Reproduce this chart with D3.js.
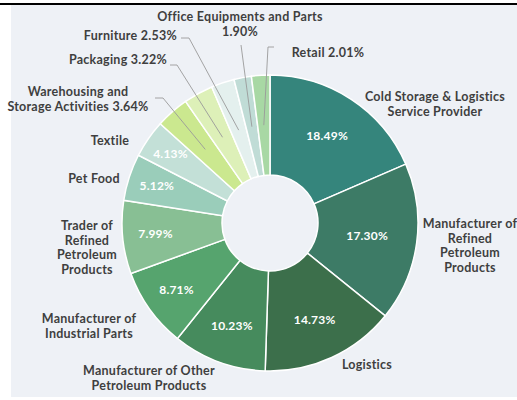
<!DOCTYPE html>
<html>
<head>
<meta charset="utf-8">
<script src="https://cdn.jsdelivr.net/npm/d3@7"></script>
<style>
  html, body { margin: 0; padding: 0; background: #ffffff; }
  svg { display: block; }
</style>
</head>
<body>
<script>
// ---- data ----
const categories = [
  "Cold Storage & Logistics Service Provider",
  "Manufacturer of Refined Petroleum Products",
  "Logistics",
  "Manufacturer of Other Petroleum Products",
  "Manufacturer of Industrial Parts",
  "Trader of Refined Petroleum Products",
  "Pet Food",
  "Textile",
  "Warehousing and Storage Activities",
  "Packaging",
  "Furniture",
  "Office Equipments and Parts",
  "Retail"
];
const shares = [18.49, 17.30, 14.73, 10.23, 8.71, 7.99, 5.12, 4.13, 3.64, 3.22, 2.53, 1.90, 2.01];
const sliceColors = ["#35857c", "#3d7b66", "#3c6f4b", "#468b5d", "#56a46e", "#88bf94", "#9acdba",
                     "#c3e0d7", "#cbe88f", "#ddf0b8", "#e4f0ee", "#c0dcd6", "#a8d8a4"];

// ---- layout (label placement) ----
const W = 517, H = 400;
const cx = 270, cy = 223, rOuter = 148, rInner = 48;
const labelLayout = [
  { lines: ["Cold Storage & Logistics", "Service Provider"], x: 435, y: 101, anchor: "middle", inside: 104 },
  { lines: ["Manufacturer of", "Refined", "Petroleum", "Products"], x: 470, y: 228, anchor: "middle", inside: 98 },
  { lines: ["Logistics"], x: 367, y: 369, anchor: "middle", inside: 107 },
  { lines: ["Manufacturer of Other", "Petroleum Products"], x: 149, y: 375, anchor: "middle", inside: 110 },
  { lines: ["Manufacturer of", "Industrial Parts"], x: 89, y: 323, anchor: "middle", inside: 115 },
  { lines: ["Trader of", "Refined", "Petroleum", "Products"], x: 87, y: 230, anchor: "middle", inside: 115 },
  { lines: ["Pet Food"], x: 94, y: 183, anchor: "middle", inside: 119 },
  { lines: ["Textile"], x: 110, y: 145, anchor: "middle", inside: 121 },
  { lines: ["Warehousing and", "Storage Activities {p}"], x: 78, y: 96, anchor: "middle",
    leader: [[155, 98], [163, 98]] },
  { lines: ["Packaging {p}"], x: 167, y: 64, anchor: "end", leader: [[170, 65], [177, 65]] },
  { lines: ["Furniture {p}"], x: 177, y: 40, anchor: "end", leader: [[181, 38], [189, 38]] },
  { lines: ["Office Equipments and Parts", "{p}"], x: 240, y: 21, anchor: "middle", leader: [[241, 45]] },
  { lines: ["Retail {p}"], x: 328, y: 57, anchor: "middle", leader: [[274, 47], [268, 47]] }
];
const lineH = 14.7;

const fmt = v => d3.format(".2f")(v) + "%";

const svg = d3.select("body").append("svg").attr("width", W).attr("height", H);

// background panel
svg.append("rect").attr("x", 11).attr("y", 4).attr("width", W - 11).attr("height", 393).attr("fill", "#eef1f6");

// rule line under (cropped) title
svg.append("line").attr("x1", 0).attr("x2", W).attr("y1", 4).attr("y2", 4)
  .attr("stroke", "#000").attr("stroke-width", 2);

const pie = d3.pie().sort(null).value(d => d)(shares);
const arc = d3.arc().innerRadius(rInner).outerRadius(rOuter);

const g = svg.append("g").attr("transform", `translate(${cx},${cy})`);
g.selectAll("path.slice").data(pie).join("path")
  .attr("class", "slice")
  .attr("d", arc)
  .attr("fill", (d, i) => sliceColors[i])
  .attr("stroke", "#ffffff").attr("stroke-width", 1.5);

// leader lines
pie.forEach((d, i) => {
  const L = labelLayout[i];
  if (!L.leader) return;
  const c = arc.centroid(d);
  const pts = L.leader.map(p => [p[0], p[1]]).concat([[cx + c[0], cy + c[1]]]);
  svg.append("path").attr("d", d3.line()(pts))
    .attr("fill", "none").attr("stroke", "#9a9a9a").attr("stroke-width", 0.9);
});

// inside percentage labels
pie.forEach((d, i) => {
  const L = labelLayout[i];
  if (!L.inside) return;
  const a = (d.startAngle + d.endAngle) / 2;
  const x = cx + L.inside * Math.sin(a), y = cy - L.inside * Math.cos(a);
  svg.append("text").attr("x", x).attr("y", y).attr("dy", "0.35em")
    .attr("text-anchor", "middle")
    .attr("font-family", "Lato, sans-serif").attr("font-weight", 700).attr("font-size", 12)
    .attr("letter-spacing", 0.2)
    .attr("fill", "#ffffff").text(fmt(shares[i]));
});

// category labels
labelLayout.forEach((L, i) => {
  const t = svg.append("text").attr("text-anchor", L.anchor)
    .attr("font-family", "Lato, sans-serif").attr("font-weight", 700).attr("font-size", 12.5)
    .attr("letter-spacing", 0.25)
    .attr("fill", "#3f3f3f");
  L.lines.forEach((ln, k) => {
    t.append("tspan").attr("x", L.x).attr("y", L.y + k * lineH).text(ln.replace("{p}", fmt(shares[i])));
  });
});
</script>
</body>
</html>
